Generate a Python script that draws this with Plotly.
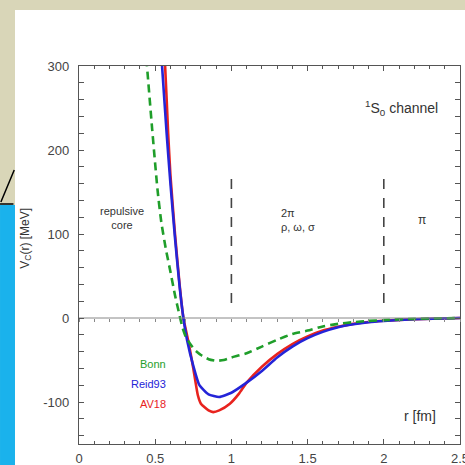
import plotly.graph_objects as go

# ---- data ----
r_bonn = [0.42, 0.446, 0.48, 0.515, 0.54, 0.57, 0.60, 0.63, 0.66, 0.68, 0.70, 0.73, 0.76, 0.80, 0.85, 0.90, 0.95,
          1.0, 1.1, 1.2, 1.3, 1.4, 1.5, 1.6, 1.7, 1.8, 1.9, 2.0, 2.2, 2.5]
v_bonn = [355, 300, 225, 153, 114, 82, 55, 27, 3, -12, -22, -31, -38, -44, -49, -51, -50,
          -47, -42, -34, -26, -19, -15, -10, -7, -5, -3.5, -2.5, -1, 0]

r_reid = [0.52, 0.545, 0.575, 0.60, 0.63, 0.66, 0.685, 0.71, 0.75, 0.79, 0.85, 0.92, 1.0, 1.1, 1.2,
          1.3, 1.4, 1.5, 1.6, 1.7, 1.8, 1.9, 2.0, 2.2, 2.5]
v_reid = [370, 300, 220, 160, 95, 38, 0, -27, -57, -80, -91, -94, -89, -77, -63,
          -47, -34, -24, -16.5, -11, -7.5, -5, -3.5, -1.5, 0]

r_av18 = [0.54, 0.565, 0.585, 0.60, 0.63, 0.66, 0.685, 0.72, 0.75, 0.78, 0.80, 0.85, 0.88, 0.92, 0.99,
          1.05, 1.1, 1.2, 1.3, 1.4, 1.5, 1.6, 1.7, 1.8, 1.9, 2.0, 2.2, 2.5]
v_av18 = [360, 300, 220, 170, 100, 40, 0, -30, -60, -92, -102, -110, -112, -110, -102,
          -90, -77, -58, -43, -31, -22, -15, -10.5, -7, -4.8, -3.3, -1.4, 0]

series_names = ["Bonn", "Reid93", "AV18"]
series_colors = ["#1f9e2a", "#2424d8", "#e8231e"]
series_dash = ["8px,5px", "solid", "solid"]

region_boundaries = [1.0, 2.0]
x_ticks = [0, 0.5, 1, 1.5, 2, 2.5]
x_ticklabels = ["0", "0.5", "1", "1.5", "2", "2.5"]
y_ticks = [300, 200, 100, 0, -100]
y_ticklabels = ["300", "200", "100", "0", "-100"]

FONT = "Liberation Sans, Arial, sans-serif"
AX = "#555555"

fig = go.Figure()

# zero line with its own small ticks
fig.add_trace(go.Scatter(x=[0, 2.5], y=[0, 0], mode="lines", line=dict(color="#888888", width=1),
                         xaxis="x2", yaxis="y", showlegend=False, hoverinfo="skip"))

for r, v, name, col, dash in zip([r_av18, r_reid, r_bonn], [v_av18, v_reid, v_bonn],
                                 series_names[::-1], series_colors[::-1], series_dash[::-1]):
    fig.add_trace(go.Scatter(x=r, y=v, mode="lines", name=name,
                             line=dict(color=col, width=2.6, dash=dash, shape="spline", smoothing=0.5),
                             showlegend=False))

# series labels
label_v = [-55, -78, -102]
for name, col, yv in zip(series_names, series_colors, label_v):
    fig.add_annotation(x=0.585, y=yv, text=name, showarrow=False, xanchor="right",
                       font=dict(family=FONT, size=11, color=col))

# region boundaries
for rb in region_boundaries:
    fig.add_shape(type="line", x0=rb, x1=rb, y0=18, y1=172, xref="x", yref="y",
                  line=dict(color="#444444", width=1.6, dash="10px,9px"))

fig.add_annotation(x=0.28, y=119, text="repulsive<br>core", showarrow=False,
                   font=dict(family=FONT, size=11, color="#333"))
fig.add_annotation(x=1.31, y=117, text="2π<br>ρ, ω, σ", showarrow=False, xanchor="left", align="left",
                   font=dict(family=FONT, size=11, color="#333"))
fig.add_annotation(x=2.25, y=117, text="π", showarrow=False,
                   font=dict(family=FONT, size=12, color="#333"))
fig.add_annotation(x=2.37, y=250, text="<sup>1</sup>S<sub>0</sub> channel", showarrow=False, xanchor="right",
                   font=dict(family=FONT, size=14, color="#333"))
fig.add_annotation(x=2.24, y=-117, text="r [fm]", showarrow=False,
                   font=dict(family=FONT, size=14, color="#333"))
fig.add_annotation(x=-0.14, y=0.545, xref="paper", yref="paper", text="V<sub>C</sub>(r) [MeV]",
                   textangle=-90, showarrow=False, xanchor="center", yanchor="middle",
                   font=dict(family=FONT, size=12, color="#333"))

# page background pieces
fig.add_shape(type="rect", xref="paper", yref="paper", x0=-0.168, x1=1.05, y0=-0.12, y1=1.148,
              fillcolor="white", line=dict(width=0), layer="below")
fig.add_shape(type="rect", xref="paper", yref="paper", x0=-0.2073, x1=-0.168, y0=-0.12, y1=0.632,
              fillcolor="#1ab2ec", line=dict(width=0), layer="above")
fig.add_shape(type="path", xref="paper", yref="paper",
              path="M -0.2073 0.635 L -0.172 0.635 M -0.205 0.64 L -0.170 0.725",
              line=dict(color="black", width=1.5), layer="above")

fig.update_layout(
    width=465, height=465,
    margin=dict(l=79, r=5, t=66, b=21, autoexpand=False),
    paper_bgcolor="#d9d6b8", plot_bgcolor="white",
    xaxis=dict(range=[0, 2.5], tickmode="array", tickvals=x_ticks, ticktext=x_ticklabels,
               ticks="inside", ticklen=5, tickcolor=AX, showline=True, linecolor=AX, linewidth=1.2,
               mirror="allticks", showgrid=False, zeroline=False, ticklabelstandoff=2,
               automargin=False, ticklabeloverflow="allow",
               minor=dict(dtick=0.1, ticks="inside", ticklen=3, tickcolor=AX),
               tickfont=dict(family=FONT, size=13, color="#444")),
    xaxis2=dict(range=[0, 2.5], overlaying="x", anchor="free", position=1/3, showline=False,
                ticks="outside", ticklen=3, tickcolor="#888", dtick=0.1, tick0=0, automargin=False,
                showticklabels=False, showgrid=False, zeroline=False),
    yaxis=dict(range=[-150, 300], tickmode="array", tickvals=y_ticks, ticktext=y_ticklabels,
               ticks="inside", ticklen=5, tickcolor=AX, showline=True, linecolor=AX, linewidth=1.2,
               mirror="allticks", showgrid=False, zeroline=False, ticklabelstandoff=6,
               automargin=False, ticklabeloverflow="allow",
               minor=dict(dtick=20, ticks="inside", ticklen=3, tickcolor=AX),
               tickfont=dict(family=FONT, size=13, color="#444")),
    showlegend=False,
)

fig.write_html("out.html")
